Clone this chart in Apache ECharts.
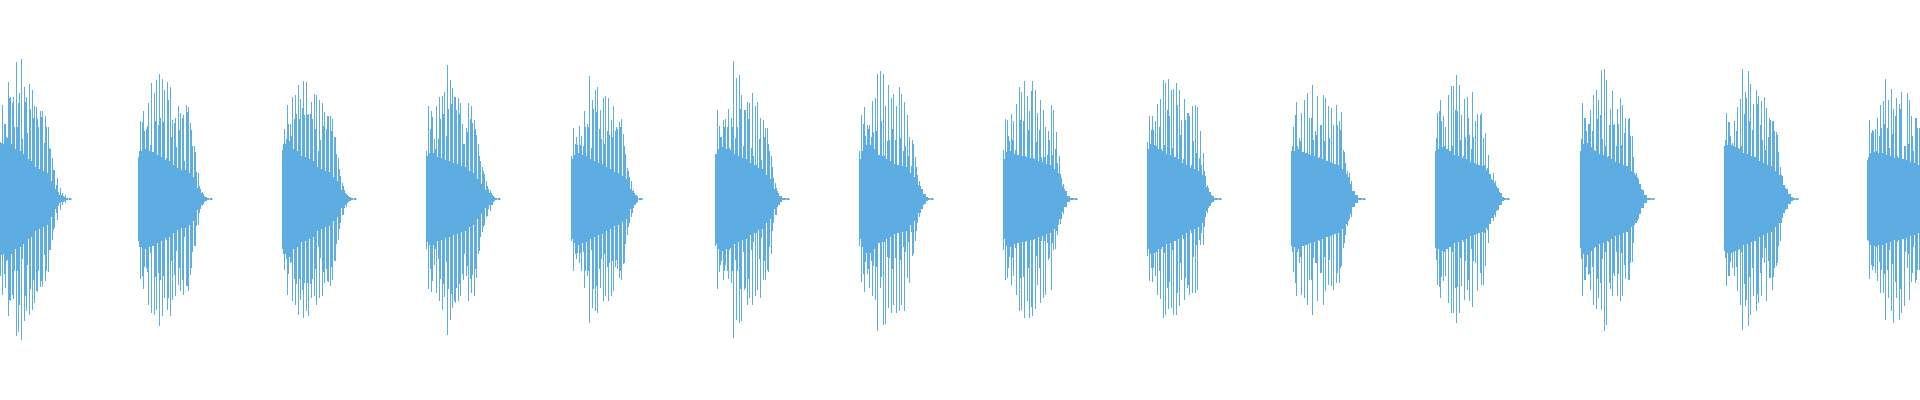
<!DOCTYPE html>
<html>
<head>
<meta charset="utf-8">
<title>waveform</title>
<script src="https://cdn.jsdelivr.net/npm/echarts@6/dist/echarts.min.js"></script>
<style>
  html, body { margin: 0; padding: 0; background: #fff; }
  #chart { width: 1920px; height: 400px; }
</style>
</head>
<body>
<div id="chart"></div>
<script>
// left edge of each burst, in px along the time axis
const burstStart = [0, 138, 282, 426, 571, 715, 859, 1003, 1147, 1291, 1435, 1580, 1724, 1867]

// peak above centre, one per stroke
const peakUp = [
  [57, 94, 75, 117, 102, 102, 137, 96, 140, 112, 102, 115, 109, 93, 80, 88, 88, 83, 72, 50, 29, 14, 7, 4, 2, 1, 1],
  [42, 78, 88, 70, 96, 116, 106, 119, 125, 120, 109, 117, 112, 79, 81, 93, 86, 84, 94, 92, 69, 53, 27, 13, 7, 3, 1, 1],
  [49, 70, 94, 75, 102, 104, 114, 100, 118, 117, 85, 97, 105, 104, 99, 96, 87, 83, 83, 80, 62, 41, 23, 13, 5, 2, 1, 1],
  [48, 93, 88, 60, 93, 102, 103, 107, 134, 119, 111, 102, 101, 96, 55, 71, 96, 93, 79, 64, 43, 32, 25, 13, 9, 4, 1, 1],
  [43, 71, 62, 73, 63, 88, 75, 123, 99, 109, 112, 89, 101, 103, 101, 79, 93, 72, 77, 80, 53, 31, 22, 8, 4, 1, 1],
  [45, 89, 62, 79, 80, 90, 81, 138, 121, 124, 104, 89, 97, 96, 106, 93, 97, 81, 79, 71, 55, 43, 21, 11, 3, 1, 1, 1],
  [48, 84, 92, 74, 74, 98, 101, 125, 128, 125, 93, 114, 101, 105, 93, 112, 105, 97, 84, 62, 59, 42, 24, 13, 4, 2, 1, 1],
  [49, 80, 63, 85, 78, 95, 112, 107, 118, 103, 88, 118, 109, 86, 99, 89, 72, 68, 94, 89, 67, 43, 21, 10, 2, 1, 1, 1],
  [57, 83, 83, 78, 95, 100, 119, 116, 120, 109, 110, 116, 109, 79, 100, 86, 83, 93, 94, 92, 68, 46, 23, 11, 4, 1, 1, 1],
  [48, 72, 97, 61, 86, 99, 106, 81, 114, 68, 103, 74, 104, 101, 93, 91, 74, 94, 78, 87, 47, 28, 26, 6, 3, 1, 1, 1],
  [48, 86, 99, 83, 72, 104, 113, 113, 124, 114, 84, 100, 102, 64, 107, 78, 85, 84, 61, 66, 44, 20, 26, 13, 7, 2, 1, 1],
  [48, 96, 81, 75, 89, 104, 109, 99, 129, 130, 119, 74, 108, 75, 90, 101, 94, 81, 80, 63, 42, 26, 19, 10, 4, 1, 1, 1],
  [53, 86, 77, 56, 78, 92, 100, 130, 107, 128, 115, 95, 109, 103, 98, 102, 91, 81, 78, 68, 64, 32, 23, 11, 4, 1, 1, 1],
  [39, 79, 69, 70, 81, 94, 98, 120, 99, 110, 90, 101, 95, 107, 53, 106, 99, 63, 81, 71]
]

// peak below centre, one per stroke
const peakDown = [
  [77, 96, 89, 117, 102, 100, 137, 133, 141, 122, 112, 116, 111, 104, 93, 88, 88, 82, 73, 51, 31, 14, 7, 3, 2, 1, 1],
  [42, 80, 90, 69, 106, 114, 116, 111, 127, 117, 99, 111, 117, 101, 97, 86, 92, 96, 87, 92, 69, 47, 27, 14, 7, 3, 1, 1],
  [50, 71, 96, 64, 102, 106, 116, 101, 119, 112, 117, 99, 97, 106, 99, 97, 84, 82, 87, 81, 62, 41, 24, 16, 8, 3, 1, 1],
  [50, 90, 93, 66, 94, 102, 111, 98, 136, 121, 109, 104, 102, 97, 81, 77, 102, 94, 97, 79, 52, 33, 26, 17, 12, 6, 1, 1],
  [42, 72, 60, 64, 72, 89, 77, 124, 109, 112, 114, 89, 102, 97, 102, 97, 92, 61, 79, 81, 64, 36, 24, 14, 6, 2, 1],
  [47, 90, 66, 81, 66, 80, 84, 139, 121, 124, 122, 91, 106, 99, 106, 97, 91, 99, 81, 81, 73, 55, 24, 16, 6, 3, 1, 1],
  [47, 83, 93, 75, 89, 97, 101, 132, 89, 126, 125, 109, 114, 106, 114, 112, 106, 112, 79, 84, 57, 42, 24, 14, 6, 2, 1, 1],
  [51, 81, 69, 86, 77, 96, 112, 111, 119, 102, 119, 117, 110, 86, 104, 99, 96, 61, 91, 51, 32, 14, 10, 6, 3, 1, 1, 1],
  [57, 82, 83, 77, 96, 100, 119, 116, 110, 109, 116, 116, 107, 81, 101, 89, 96, 94, 94, 91, 46, 46, 17, 9, 4, 1, 1, 1],
  [47, 73, 97, 64, 96, 99, 106, 81, 116, 64, 102, 74, 106, 92, 86, 87, 91, 84, 84, 67, 44, 27, 17, 7, 3, 1, 1, 1],
  [49, 86, 99, 82, 77, 104, 114, 114, 124, 114, 87, 101, 91, 102, 108, 64, 92, 74, 86, 67, 44, 19, 22, 12, 6, 2, 1, 1],
  [49, 97, 81, 76, 91, 106, 110, 99, 111, 132, 126, 84, 97, 77, 97, 102, 97, 80, 81, 64, 44, 24, 17, 9, 4, 1, 1, 1],
  [52, 87, 77, 69, 77, 92, 106, 131, 107, 127, 116, 97, 112, 104, 97, 64, 102, 79, 91, 69, 64, 42, 19, 11, 4, 1, 1, 1],
  [41, 80, 71, 74, 82, 94, 94, 121, 99, 112, 124, 99, 121, 114, 107, 69, 101, 74, 84, 71]
]

// shorter stroke half-way between two peaks (both sides)
const midLevel = [
  [56, 75, 62, 101, 96, 72, 72, 106, 60, 97, 66, 90, 81, 92, 72, 82, 56, 72, 51, 41, 29, 21, 11, 6, 4, 1, 1],
  [48, 77, 68, 73, 54, 46, 78, 74, 81, 77, 41, 99, 62, 76, 52, 69, 81, 38, 87, 76, 53, 47, 26, 10, 5, 2, 1, 1],
  [55, 60, 75, 63, 80, 85, 80, 91, 84, 84, 85, 80, 70, 48, 59, 73, 70, 83, 68, 62, 45, 30, 16, 9, 4, 2, 1, 1],
  [43, 70, 82, 50, 60, 80, 85, 63, 90, 95, 102, 89, 85, 75, 55, 67, 80, 76, 70, 55, 38, 28, 18, 10, 6, 3, 1, 1],
  [40, 55, 54, 54, 53, 72, 72, 51, 90, 87, 70, 60, 55, 68, 64, 62, 68, 70, 72, 65, 45, 28, 18, 9, 4, 1, 1],
  [45, 73, 62, 72, 72, 51, 72, 61, 72, 90, 53, 89, 80, 51, 43, 34, 60, 39, 62, 71, 48, 32, 16, 8, 3, 1, 1, 1],
  [40, 75, 63, 70, 62, 67, 68, 43, 78, 43, 58, 59, 70, 59, 34, 61, 48, 53, 43, 33, 55, 32, 18, 10, 4, 2, 1, 1],
  [40, 79, 58, 59, 49, 43, 79, 78, 43, 69, 108, 41, 57, 69, 42, 42, 44, 59, 44, 50, 36, 25, 15, 6, 2, 1, 1, 1],
  [50, 69, 69, 53, 72, 50, 54, 89, 83, 51, 39, 94, 64, 40, 79, 86, 34, 58, 46, 41, 34, 28, 14, 7, 3, 1, 1, 1],
  [53, 84, 53, 58, 44, 44, 43, 81, 59, 64, 42, 74, 58, 34, 61, 31, 29, 74, 69, 49, 36, 22, 18, 5, 2, 1, 1, 1],
  [61, 88, 78, 53, 49, 43, 53, 89, 88, 59, 43, 62, 81, 50, 62, 34, 29, 86, 34, 31, 23, 19, 18, 8, 4, 2, 1, 1],
  [60, 81, 68, 75, 68, 49, 80, 84, 60, 53, 43, 90, 74, 53, 75, 54, 66, 33, 81, 63, 26, 22, 12, 6, 2, 1, 1, 1],
  [59, 77, 63, 53, 68, 51, 53, 85, 101, 78, 69, 39, 95, 74, 59, 49, 62, 79, 78, 67, 47, 24, 14, 6, 3, 1, 1, 1],
  [42, 66, 68, 48, 63, 71, 75, 71, 51, 65, 83, 43, 90, 24, 53, 55, 83, 48, 81, 71]
]

// dense body of the burst (same either side of centre)
const coreLevel = [
  [43, 55, 61, 61, 55, 50, 49, 48, 45, 42, 40, 38, 35, 32, 30, 29, 28, 26, 24, 18, 10, 6, 4, 3, 1, 0.5, 0.5],
  [42, 48, 50, 50, 48, 47, 45, 44, 42, 40, 39, 38, 36, 34, 31, 30, 29, 29, 28, 26, 22, 17, 11, 6, 3, 2, 0.5, 0.5],
  [48, 55, 58, 55, 50, 48, 44, 43, 42, 42, 40, 38, 34, 32, 30, 29, 28, 27, 26, 22, 18, 13, 9, 6, 3, 2, 0.5, 0.5],
  [43, 46, 46, 44, 42, 41, 40, 39, 38, 37, 36, 35, 34, 33, 32, 31, 28, 26, 24, 20, 15, 12, 9, 6, 4, 2, 0.5, 0.5],
  [38, 44, 46, 45, 44, 43, 42, 40, 38, 37, 36, 35, 34, 32, 30, 28, 27, 26, 25, 23, 20, 15, 10, 6, 3, 0.5, 0.5],
  [45, 50, 52, 51, 50, 49, 48, 45, 43, 42, 41, 40, 38, 36, 34, 33, 31, 30, 28, 24, 20, 15, 10, 6, 3, 1, 0.5, 0.5],
  [31, 48, 54, 54, 54, 50, 46, 44, 43, 42, 40, 38, 36, 35, 34, 34, 33, 32, 30, 26, 22, 18, 14, 10, 5, 2, 0.5, 0.5],
  [28, 47, 48, 47, 45, 44, 43, 43, 42, 42, 41, 40, 39, 38, 37, 36, 35, 34, 33, 30, 26, 20, 13, 8, 3, 1, 0.5, 0.5],
  [18, 55, 54, 52, 50, 48, 46, 45, 44, 43, 42, 40, 38, 36, 34, 32, 31, 30, 30, 28, 24, 18, 12, 7, 3, 1, 0.5, 0.5],
  [40, 48, 50, 48, 47, 46, 45, 44, 43, 42, 41, 40, 39, 38, 37, 36, 35, 34, 33, 30, 25, 20, 15, 8, 4, 1, 0.5, 0.5],
  [40, 50, 52, 51, 50, 48, 46, 44, 43, 42, 41, 40, 39, 37, 36, 35, 34, 33, 32, 29, 25, 17, 16, 11, 6, 2, 0.5, 0.5],
  [45, 55, 56, 55, 52, 48, 46, 45, 44, 43, 42, 40, 38, 37, 36, 35, 34, 33, 31, 28, 24, 20, 15, 9, 4, 1, 0.5, 0.5],
  [50, 54, 54, 53, 52, 50, 48, 46, 45, 44, 43, 42, 40, 38, 36, 35, 34, 33, 31, 28, 24, 18, 14, 10, 5, 2, 0.5, 0.5],
  [39, 46, 47, 47, 46, 46, 45, 44, 43, 42, 41, 41, 40, 40, 39, 38, 37, 36, 35, 34]
]

const SPIKE_STEP = 8 / 3 // px between peaks
const COLOR = '#5dade2'

const waveData = []
burstStart.forEach((start, b) => {
  peakUp[b].forEach((up, k) => {
    waveData.push([start + k * SPIKE_STEP, up, peakDown[b][k], coreLevel[b][k], midLevel[b][k]])
  })
})

function vLine(px, y1, y2) {
  const lx = Math.floor(px) + 0.5
  return {
    type: 'line',
    shape: { x1: lx, y1: y1, x2: lx, y2: y2 },
    style: { stroke: COLOR, lineWidth: 1 }
  }
}

function renderStroke(params, api) {
  const x = api.value(0)
  const top = api.coord([x, api.value(1)])
  const bot = api.coord([x, -api.value(2)])
  const midTop = api.coord([x + SPIKE_STEP / 2, api.value(4)])
  const midBot = api.coord([x + SPIKE_STEP / 2, -api.value(4)])
  const cTop = api.coord([x, api.value(3)])
  const cEnd = api.coord([x + SPIKE_STEP, -api.value(3)])
  const x0 = Math.round(cTop[0])
  const x1 = Math.round(cEnd[0])
  return {
    type: 'group',
    children: [
      {
        type: 'rect',
        shape: { x: x0, y: cTop[1], width: Math.max(1, x1 - x0), height: cEnd[1] - cTop[1] },
        style: { fill: COLOR }
      },
      vLine(midTop[0], midTop[1], midBot[1]),
      vLine(top[0], top[1], bot[1])
    ]
  }
}

const chart = echarts.init(document.getElementById('chart'))
chart.setOption({
  backgroundColor: '#fff',
  animation: false,
  grid: { left: 0, right: 0, top: 0, bottom: 0 },
  xAxis: { type: 'value', min: 0, max: 1920, show: false },
  yAxis: { type: 'value', min: -201, max: 199, show: false },
  series: [
    {
      type: 'custom',
      renderItem: renderStroke,
      clip: true,
      encode: { x: 0, y: 1 },
      data: waveData
    }
  ]
})
</script>
</body>
</html>
